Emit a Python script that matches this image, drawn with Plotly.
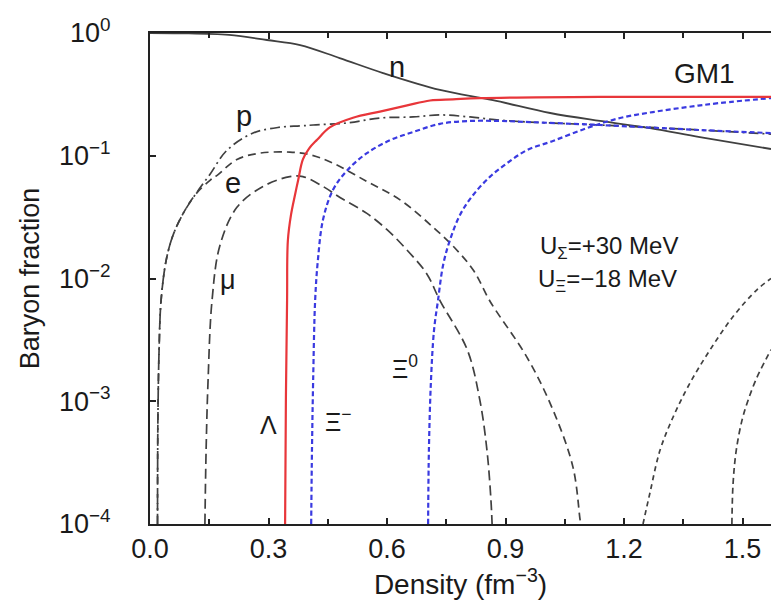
import plotly.graph_objects as go

# ---- data ----
n_x = [0.0, 0.076, 0.2, 0.296, 0.38, 0.48, 0.59, 0.734, 0.868, 1.013, 1.139, 1.266, 1.392, 1.572]
n_y = [1.0, 0.995, 0.964, 0.877, 0.798, 0.625, 0.472, 0.344, 0.284, 0.223, 0.192, 0.168, 0.142, 0.1135]

p_x = [0.019, 0.020, 0.023, 0.028, 0.041, 0.058, 0.084, 0.114, 0.152, 0.195, 0.261, 0.33, 0.38,
       0.413, 0.499, 0.582, 0.666, 0.734, 0.81, 0.886, 0.962, 1.139, 1.392, 1.572]
p_y = [1e-4, 7.08e-4, 2.63e-3, 6.61e-3, 1.41e-2, 2.24e-2, 3.39e-2, 4.79e-2, 7.08e-2, 0.111, 0.153, 0.171, 0.175,
       0.178, 0.185, 0.203, 0.207, 0.215, 0.207, 0.195, 0.188, 0.178, 0.162, 0.150]

e_x = [0.019, 0.020, 0.023, 0.028, 0.041, 0.058, 0.084, 0.114, 0.152, 0.17, 0.22, 0.278, 0.354, 0.405,
       0.463, 0.549, 0.633, 0.716, 0.777, 0.82, 0.861, 0.954, 1.02, 1.071, 1.089, 1.091]
e_y = [1e-4, 7.08e-4, 2.63e-3, 6.61e-3, 1.41e-2, 2.24e-2, 3.39e-2, 4.79e-2, 6.31e-2, 6.92e-2, 9.33e-2, 0.105, 0.107, 0.102,
       8.71e-2, 6.17e-2, 4.37e-2, 2.63e-2, 1.70e-2, 1.15e-2, 6.5e-3, 2.29e-3, 8.51e-4, 2.88e-4, 1.07e-4, 1e-4]

mu_x = [0.139, 0.142, 0.147, 0.157, 0.177, 0.22, 0.286, 0.354, 0.387, 0.438, 0.481, 0.549, 0.60, 0.651,
        0.70, 0.734, 0.803, 0.835, 0.853, 0.863, 0.866]
mu_y = [1e-4, 3.98e-4, 1.48e-3, 6.61e-3, 1.86e-2, 3.80e-2, 5.62e-2, 6.76e-2, 6.76e-2, 5.62e-2, 4.57e-2, 3.39e-2, 2.5e-2, 1.70e-2,
        1.1e-2, 6.61e-3, 2.63e-3, 1.02e-3, 3.98e-4, 1.58e-4, 1e-4]

lam_x = [0.342, 0.344, 0.347, 0.349, 0.357, 0.367, 0.375, 0.387, 0.403, 0.423, 0.456, 0.514, 0.582, 0.651,
         0.709, 0.767, 0.835, 1.139, 1.572]
lam_y = [1e-4, 1.02e-3, 6.61e-3, 2.04e-2, 3.31e-2, 4.79e-2, 6.31e-2, 9.33e-2, 0.115, 0.135, 0.171, 0.204, 0.229, 0.257,
         0.282, 0.288, 0.295, 0.302, 0.302]

xim_x = [0.408, 0.41, 0.413, 0.418, 0.425, 0.438, 0.463, 0.499, 0.549, 0.608, 0.666, 0.734, 0.81, 0.886,
         0.962, 1.139, 1.392, 1.572]
xim_y = [1e-4, 3.98e-4, 1.48e-3, 6.61e-3, 1.41e-2, 3.02e-2, 5.25e-2, 7.59e-2, 0.105, 0.134, 0.156, 0.182, 0.192, 0.192,
         0.188, 0.178, 0.162, 0.153]

xi0_x = [0.704, 0.706, 0.711, 0.719, 0.729, 0.742, 0.759, 0.785, 0.818, 0.861, 0.904, 0.954, 1.02, 1.106,
         1.19, 1.273, 1.359, 1.443, 1.572]
xi0_y = [1e-4, 3.98e-4, 1.41e-3, 3.80e-3, 6.61e-3, 1.29e-2, 2.04e-2, 3.31e-2, 4.79e-2, 6.76e-2, 8.71e-2, 0.111, 0.132, 0.168,
         0.203, 0.227, 0.249, 0.269, 0.295]

ra_x = [1.248, 1.266, 1.291, 1.324, 1.367, 1.418, 1.476, 1.537, 1.572]
ra_y = [1e-4, 1.82e-4, 3.98e-4, 7.41e-4, 1.41e-3, 2.63e-3, 4.90e-3, 8.13e-3, 1.0e-2]

rb_x = [1.473, 1.476, 1.484, 1.499, 1.514, 1.537, 1.562, 1.572]
rb_y = [1e-4, 2.14e-4, 3.98e-4, 7.08e-4, 1.02e-3, 1.58e-3, 2.29e-3, 2.63e-3]

x_ticks = [0.0, 0.3, 0.6, 0.9, 1.2, 1.5]
x_labels = ["0.0", "0.3", "0.6", "0.9", "1.2", "1.5"]
x_minor = [0.15, 0.45, 0.75, 1.05, 1.35]
y_ticks = [1e-4, 1e-3, 1e-2, 1e-1, 1]
y_labels = ["10<sup>−4</sup>", "10<sup>−3</sup>", "10<sup>−2</sup>", "10<sup>−1</sup>", "10<sup>0</sup>"]

BLACK = "#404040"
RED = "#e8363a"
BLUE = "#3a3ae0"

fig = go.Figure()

def add(x, y, color, width, dash):
    fig.add_trace(go.Scatter(x=x, y=y, mode="lines",
                             line=dict(color=color, width=width, dash=dash, shape="spline", smoothing=1.0),
                             hoverinfo="skip"))

add(n_x, n_y, BLACK, 1.8, "solid")
add(p_x, p_y, BLACK, 1.7, "10px,4px,2px,4px")
add(e_x, e_y, BLACK, 1.7, "8px,5px")
add(mu_x, mu_y, BLACK, 1.7, "10px,5px")
add(ra_x, ra_y, BLACK, 1.7, "5px,4px")
add(rb_x, rb_y, BLACK, 1.7, "6px,4px")
add(xim_x, xim_y, BLUE, 2.2, "5px,3px")
add(xi0_x, xi0_y, BLUE, 2.2, "5px,3px")
add(lam_x, lam_y, RED, 2.2, "solid")

FONT = "Liberation Sans, Arial, Helvetica, sans-serif"
TXT = "#1a1a1a"

labels = [
    ("n", 0.625, -0.277, 29),
    ("GM1", 1.403, -0.326, 28),
    ("p", 0.238, -0.676, 29),
    ("e", 0.21, -1.222, 29),
    ("μ", 0.197, -2.01, 27),
    ("Λ", 0.299, -3.19, 25),
    ("Ξ<sup>−</sup>", 0.476, -3.15, 25),
    ("Ξ<sup>0</sup>", 0.646, -2.72, 25),
    ("U<sub>Σ</sub>=+30 MeV", 1.162, -1.75, 24),
    ("U<sub>Ξ</sub>=−18 MeV", 1.159, -2.02, 24),
]
for txt, lx, ly, fs in labels:
    fig.add_annotation(x=lx, y=ly, xref="x", yref="y", text=txt, showarrow=False,
                       font=dict(family=FONT, size=fs, color=TXT))

fig.update_layout(
    width=771, height=602,
    margin=dict(l=150, r=0, t=33, b=78),
    plot_bgcolor="white", paper_bgcolor="white",
    showlegend=False,
    font=dict(family=FONT, color=TXT),
)
fig.update_xaxes(
    range=[0, 1.572], tickvals=x_ticks, ticktext=x_labels,
    ticks="inside", ticklen=6, tickwidth=1.5, tickcolor="#222",
    minor=dict(tickvals=x_minor, ticks="inside", ticklen=5, tickwidth=1.5, tickcolor="#222"),
    showline=True, linecolor="#222", linewidth=2, mirror="allticks",
    showgrid=False, zeroline=False,
    tickfont=dict(size=27, family=FONT, color=TXT),
    title=dict(text="Density (fm<sup>−3</sup>)", font=dict(size=28, family=FONT, color=TXT), standoff=6),
)
fig.update_yaxes(
    type="log", range=[-4, 0], tickvals=y_ticks, ticktext=y_labels,
    ticks="inside", ticklen=6, tickwidth=1.5, tickcolor="#222",
    showline=True, linecolor="#222", linewidth=2, mirror=False,
    showgrid=False, zeroline=False,
    tickfont=dict(size=27, family=FONT, color=TXT),
    ticklabelstandoff=32,
    title=dict(text="Baryon fraction", font=dict(size=27, family=FONT, color=TXT), standoff=12),
)

fig.write_html("out.html")
